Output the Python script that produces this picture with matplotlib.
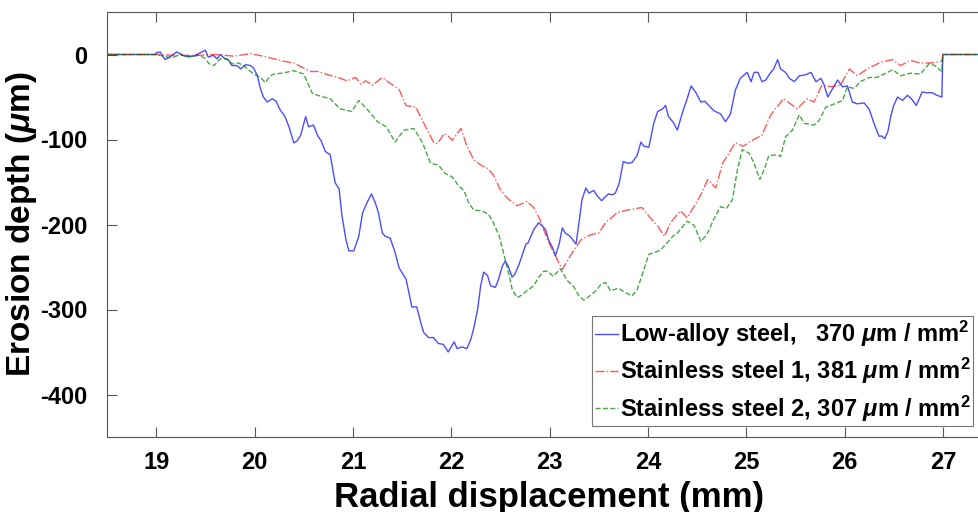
import numpy as np
import matplotlib
matplotlib.use("Agg")
import matplotlib.pyplot as plt

plt.rcParams['font.family'] = ['Liberation Sans', 'DejaVu Sans']
plt.rcParams['font.weight'] = 'bold'
plt.rcParams['axes.unicode_minus'] = False
plt.rcParams['mathtext.fontset'] = 'custom'
plt.rcParams['mathtext.rm'] = 'Liberation Sans:bold'
plt.rcParams['mathtext.it'] = 'Liberation Sans:italic:bold'
plt.rcParams['mathtext.bf'] = 'Liberation Sans:bold'

# low-alloy steel profile (mm, um)
low_x = [18.5, 19.0, 19.0, 19.04, 19.09, 19.15, 19.21, 19.29, 19.38, 19.45, 19.50, 19.53, 19.58,
         19.62, 19.65, 19.69, 19.74, 19.77, 19.82, 19.86, 19.91, 19.96, 19.99, 20.03, 20.06,
         20.09, 20.13, 20.18, 20.22, 20.26, 20.31, 20.35, 20.40, 20.43, 20.47, 20.52, 20.55,
         20.60, 20.64, 20.68, 20.72, 20.77, 20.82, 20.86, 20.89, 20.93, 20.96, 21.01, 21.06,
         21.10, 21.15, 21.19, 21.23, 21.26, 21.30, 21.33, 21.38, 21.43, 21.47, 21.54, 21.57,
         21.60, 21.65, 21.69, 21.72, 21.77, 21.82, 21.87, 21.92, 21.97, 22.03, 22.06, 22.11,
         22.16, 22.20, 22.23, 22.27, 22.30, 22.33, 22.37, 22.40, 22.45, 22.48, 22.52, 22.55,
         22.58, 22.62, 22.65, 22.69, 22.72, 22.76, 22.78, 22.81, 22.84, 22.89, 22.93, 22.96,
         22.99, 23.03, 23.06, 23.10, 23.13, 23.16, 23.21, 23.27, 23.30, 23.33, 23.37, 23.40,
         23.45, 23.49, 23.53, 23.57, 23.60, 23.64, 23.67, 23.71, 23.75, 23.80, 23.84, 23.89,
         23.93, 23.96, 24.01, 24.06, 24.10, 24.15, 24.18, 24.21, 24.26, 24.30, 24.35, 24.40,
         24.44, 24.49, 24.54, 24.58, 24.62, 24.67, 24.74, 24.79, 24.84, 24.89, 24.94, 25.01,
         25.05, 25.08, 25.12, 25.16, 25.20, 25.25, 25.28, 25.32, 25.35, 25.40, 25.44, 25.49,
         25.54, 25.60, 25.66, 25.71, 25.76, 25.79, 25.83, 25.88, 25.93, 25.98, 26.03, 26.08,
         26.13, 26.20, 26.25, 26.30, 26.35, 26.38, 26.41, 26.44, 26.47, 26.50, 26.54, 26.59,
         26.64, 26.68, 26.73, 26.79, 26.83, 26.89, 26.94, 26.99, 27.0, 27.5]
low_y = [0, 0, 2, 3, -6, -2, 3, -2, -2, 2, 5, -3, -1,
         -5, 0, -4, -7, -13, -13, -17, -12, -13, -16, -25, -40,
         -50, -56, -52, -55, -65, -73, -85, -104, -102, -95, -73, -85,
         -83, -95, -102, -114, -118, -151, -158, -190, -218, -231, -231, -214,
         -186, -173, -164, -175, -186, -210, -214, -216, -233, -251, -264, -280,
         -297, -297, -315, -327, -333, -333, -340, -341, -350, -338, -346, -344,
         -346, -335, -322, -299, -272, -256, -260, -272, -274, -265, -249, -243,
         -249, -262, -258, -247, -237, -223, -222, -214, -206, -198, -202, -206,
         -218, -227, -237, -222, -204, -210, -214, -223, -198, -171, -157, -163,
         -160, -167, -172, -167, -164, -165, -163, -151, -126, -128, -127, -119,
         -103, -108, -109, -81, -67, -64, -60, -73, -80, -89, -69, -52,
         -37, -45, -56, -55, -60, -66, -70, -79, -70, -42, -28, -21,
         -32, -21, -21, -32, -30, -21, -17, -6, -17, -21, -28, -32,
         -25, -24, -21, -32, -28, -35, -50, -40, -30, -38, -37, -56,
         -58, -57, -64, -81, -96, -96, -99, -91, -73, -60, -50, -54,
         -48, -52, -60, -44, -45, -45, -48, -50, 0, 0]

# stainless steel 1
ss1_x = [18.5, 19.0, 19.2, 19.4, 19.62, 19.79, 19.96, 20.09, 20.23, 20.30, 20.40, 20.50, 20.57,
         20.65, 20.75, 20.85, 20.94, 21.03, 21.08, 21.13, 21.20, 21.30, 21.38, 21.47, 21.54,
         21.64, 21.74, 21.82, 21.86, 21.93, 21.97, 22.01, 22.10, 22.16, 22.23, 22.30, 22.37,
         22.43, 22.50, 22.57, 22.67, 22.77, 22.84, 22.91, 22.98, 23.06, 23.13, 23.21, 23.32,
         23.42, 23.50, 23.57, 23.69, 23.79, 23.94, 24.01, 24.10, 24.17, 24.23, 24.33, 24.40,
         24.49, 24.54, 24.61, 24.69, 24.76, 24.82, 24.89, 24.97, 25.03, 25.16, 25.25, 25.38,
         25.52, 25.62, 25.69, 25.77, 25.87, 25.96, 26.05, 26.13, 26.23, 26.37, 26.49, 26.57,
         26.67, 26.77, 26.88, 26.99, 27.0, 27.5]
ss1_y = [0, 0, -1, -1, 0, -2, 1, -2, -6, -8, -10, -16, -20,
         -20, -24, -27, -31, -27, -35, -31, -36, -27, -34, -41, -60,
         -62, -85, -103, -105, -93, -96, -101, -87, -108, -124, -130, -134,
         -142, -159, -169, -178, -173, -180, -196, -218, -237, -253, -237, -218,
         -212, -210, -198, -186, -183, -180, -190, -202, -214, -198, -184, -192,
         -175, -165, -147, -157, -128, -117, -104, -108, -103, -95, -71, -52,
         -64, -52, -56, -36, -38, -36, -17, -25, -17, -9, -6, -13,
         -7, -10, -10, -8, 0, 0]

# stainless steel 2
ss2_x = [18.5, 19.0, 19.08, 19.15, 19.25, 19.33, 19.43, 19.49, 19.54, 19.59, 19.65, 19.72, 19.77,
         19.84, 19.91, 19.99, 20.06, 20.11, 20.16, 20.20, 20.28, 20.40, 20.50, 20.59, 20.67,
         20.77, 20.87, 20.99, 21.06, 21.15, 21.25, 21.34, 21.43, 21.52, 21.62, 21.71, 21.79,
         21.87, 21.94, 22.01, 22.08, 22.13, 22.18, 22.23, 22.31, 22.38, 22.43, 22.49, 22.54,
         22.59, 22.62, 22.67, 22.72, 22.77, 22.84, 22.89, 22.94, 22.98, 23.04, 23.11, 23.18,
         23.24, 23.30, 23.35, 23.41, 23.47, 23.52, 23.57, 23.62, 23.70, 23.77, 23.84, 23.89,
         23.94, 24.01, 24.07, 24.13, 24.20, 24.27, 24.30, 24.40, 24.47, 24.54, 24.60, 24.67,
         24.74, 24.80, 24.86, 24.91, 24.96, 25.03, 25.08, 25.14, 25.19, 25.23, 25.31, 25.35,
         25.40, 25.47, 25.54, 25.59, 25.69, 25.74, 25.81, 25.90, 25.98, 26.03, 26.10, 26.16,
         26.25, 26.33, 26.40, 26.49, 26.57, 26.67, 26.77, 26.86, 26.92, 26.99, 27.0, 27.5]
ss2_y = [0, 0, -2, -4, 0, -3, -1, -4, -11, -13, -5, -5, -11,
         -10, -15, -23, -27, -33, -25, -23, -22, -19, -23, -46, -49,
         -52, -64, -67, -54, -65, -79, -85, -103, -89, -87, -104, -128,
         -130, -140, -144, -155, -160, -175, -183, -184, -188, -198, -214, -237,
         -260, -276, -286, -283, -278, -272, -262, -255, -255, -261, -252, -266,
         -272, -284, -289, -284, -278, -271, -268, -278, -275, -280, -284, -277,
         -260, -235, -233, -230, -221, -212, -210, -196, -201, -220, -212, -194,
         -179, -181, -171, -136, -112, -116, -128, -147, -133, -119, -118, -120,
         -97, -89, -71, -81, -83, -78, -62, -58, -54, -38, -40, -32,
         -27, -27, -23, -18, -25, -22, -23, -11, -13, -20, 0, 0]

labels = ['Low-alloy steel,   370 $\\mu$m / mm$^2$',
          'Stainless steel 1, 381 $\\mu$m / mm$^2$',
          'Stainless steel 2, 307 $\\mu$m / mm$^2$']

W, H = 979, 512
fig = plt.figure(figsize=(W / 100, H / 100), dpi=100)
# axes run a bit past the right edge, like the cropped original
ax = fig.add_axes([107 / W, 1 - 437 / H, 885 / W, 425 / H])

ax.plot(low_x, low_y, '-', color='b', alpha=0.7, lw=1.0, label=labels[0])
ax.plot(ss1_x, ss1_y, '-.', color='r', alpha=0.65, lw=1.0, label=labels[1])
ax.plot(ss2_x, ss2_y, '--', color='g', alpha=0.7, lw=1.0, label=labels[2])

ax.set_xlim(18.5, 27.5)
ax.set_ylim(-450, 50)
ax.set_xticks(np.arange(19, 28, 1))
ax.set_yticks([-400, -300, -200, -100, 0])
ax.tick_params(direction='in', length=7, width=0.8, color='#555555',
               top=True, right=False, labelsize=17)
ax.tick_params(axis='x', pad=10)
ax.tick_params(axis='y', pad=14)
for lab in ax.get_xticklabels() + ax.get_yticklabels():
    lab.set_fontweight('bold')
for s in ax.spines.values():
    s.set_color('#555555')
    s.set_linewidth(0.8)

ax.set_xlabel('Radial displacement (mm)', fontsize=25, fontweight='bold', labelpad=5)
ax.set_ylabel('Erosion depth ($\\mu$m)', fontsize=24, fontweight='bold', labelpad=1)

leg = ax.legend(loc='upper left', bbox_to_anchor=(592 / W, 1 - 316 / H),
                bbox_transform=fig.transFigure, fontsize=17, frameon=True,
                fancybox=False, edgecolor='#777777', framealpha=1,
                handlelength=1.0, handletextpad=0.05, borderpad=0.12,
                labelspacing=0.3, borderaxespad=0)
leg.get_frame().set_linewidth(0.8)
for t in leg.get_texts():
    t.set_fontweight('bold')

fig.savefig('out.png', dpi=100)
